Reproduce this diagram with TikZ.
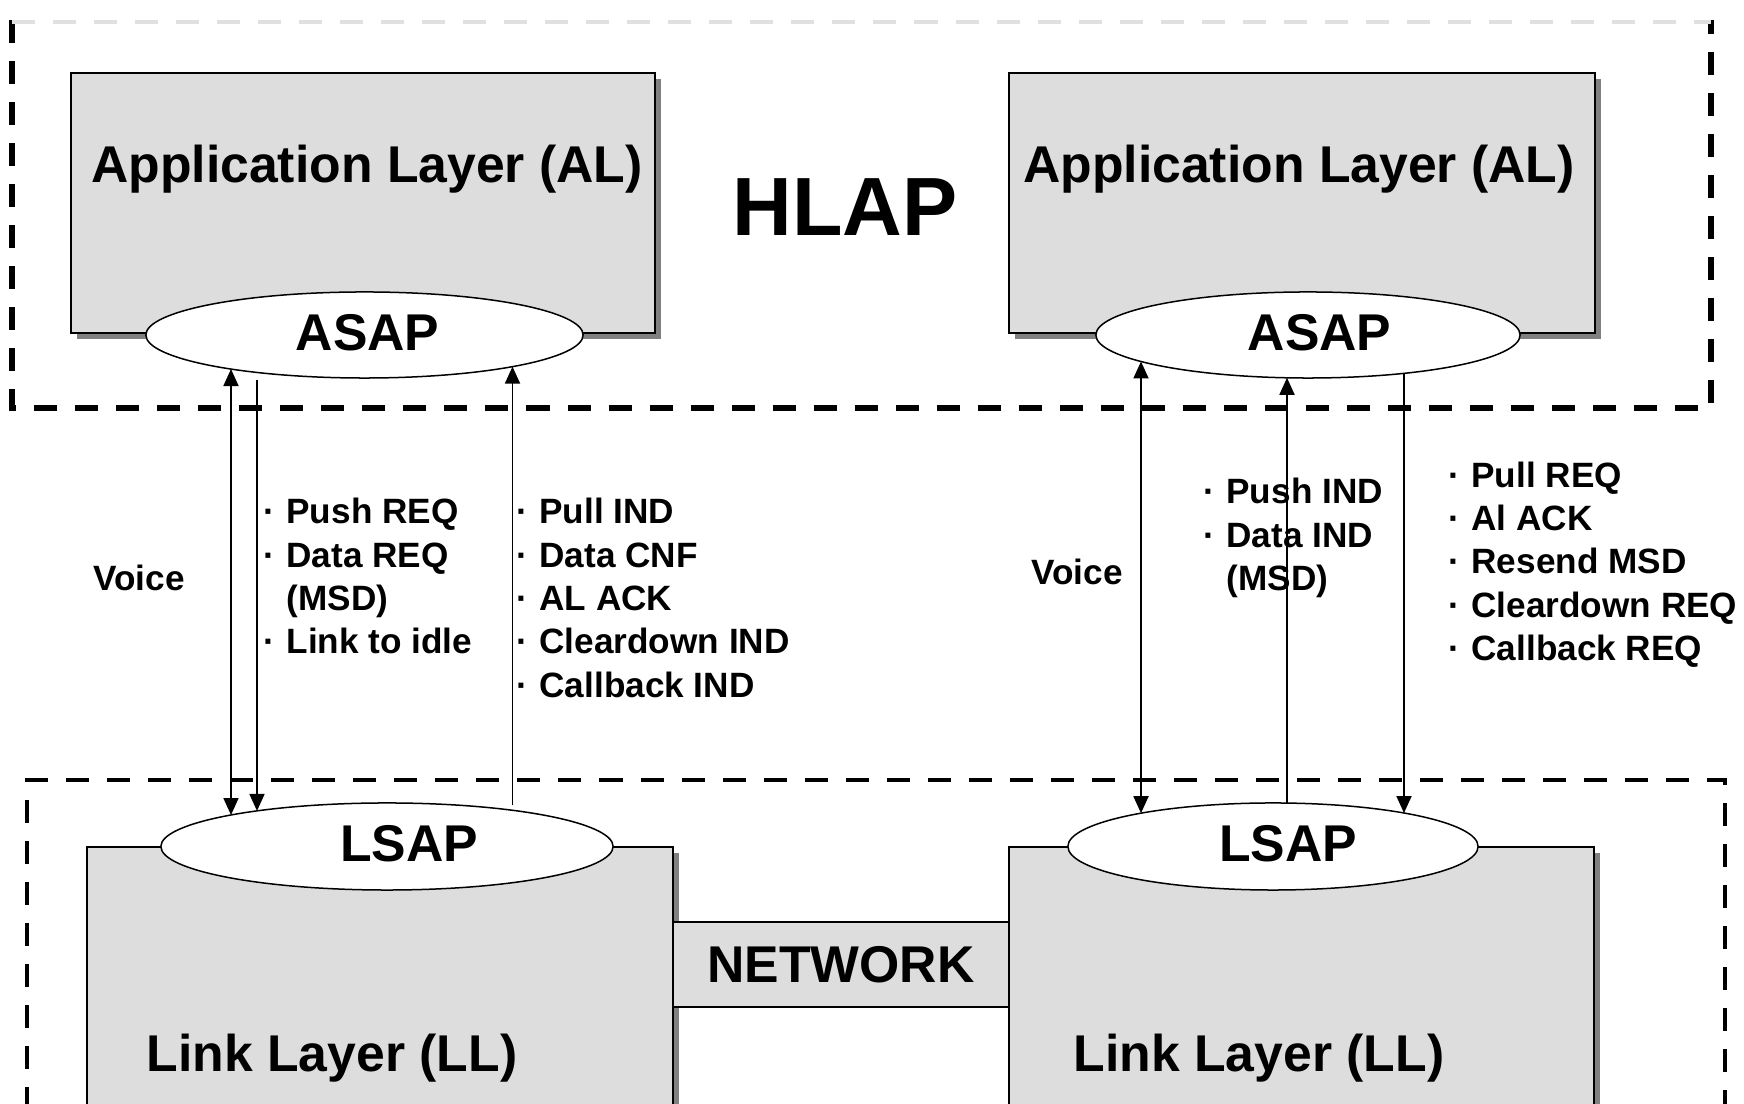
\documentclass[tikz,border=0pt]{standalone}
\usepackage{fontspec}
\setmainfont{Liberation Sans}
\usetikzlibrary{arrows.meta, % arrow tips
                shapes.geometric, % ellipse
                shadows, positioning}

\definecolor{boxgray}{RGB}{221,221,221}
\definecolor{shadowgray}{RGB}{128,128,128}
\newcommand{\bul}{\makebox[0.65em][l]{·}}
\newcommand{\nobul}{\makebox[0.65em][l]{}}

\begin{document}
\begin{tikzpicture}[x=0.01cm, y=-0.01cm,
		>={Triangle[length=0.17cm, width=0.15cm]},
		every edge/.style={draw, ->, line width=0.018cm},
		zone/.style={dashed, dash pattern=on 0.23cm off 0.18cm, line width=0.055cm},
		layer/.style={draw, line width=0.02cm, fill=boxgray,
			drop shadow={shadow xshift=0.06cm, shadow yshift=-0.06cm, fill=shadowgray, opacity=1}},
		netbox/.style={draw, line width=0.018cm, fill=boxgray, inner sep=0pt,
			font=\fontsize{14.7}{17}\selectfont\bfseries},
		sap/.style={ellipse, draw, fill=white, line width=0.015cm, inner sep=0pt},
		big/.style={inner sep=0pt, font=\fontsize{14.7}{17}\selectfont\bfseries},
		msg/.style={inner sep=0pt, anchor=base west, font=\fontsize{10}{12.3}\selectfont\bfseries}]

		\useasboundingbox (0,0) rectangle (1744,1104);
		\clip (0,0) rectangle (1744,1104);

		% Zones
		\draw[zone] (12,20) -- (12,408) -- (1711,408) -- (1711,20);
		\draw[zone, black!12, line width=0.04cm] (12,22) -- (1711,22);
		\draw[zone, line width=0.045cm] (27,1110) -- (27,780) -- (1725,780) -- (1725,1110);

		% Layers
		\node[layer, minimum width=5.84cm, minimum height=2.60cm] (alL) at (363,203) {};
		\node[layer, minimum width=5.86cm, minimum height=2.60cm] (alR) at (1302,203) {};
		\node[layer, minimum width=5.86cm, minimum height=2.83cm] (llL) at (380,988.5) {};
		\node[layer, minimum width=5.85cm, minimum height=2.83cm] (llR) at (1301.5,988.5) {};
		\node[netbox, minimum width=3.36cm, minimum height=0.85cm] (net) at (841,964.5) {NETWORK};

		\node[big, anchor=base] (alTL) at (367,183) {Application Layer (AL)};
		\node[big, anchor=base] (alTR) at (1299,183) {Application Layer (AL)};
		\node[big, anchor=base] (llTL) at (332,1072) {Link Layer (LL)};
		\node[big, anchor=base] (llTR) at (1259,1072) {Link Layer (LL)};
		\node[inner sep=0pt, font=\fontsize{23.5}{28}\selectfont\bfseries] (hlap) at (845,207) {HLAP};

		% Service access points
		\node[sap, minimum width=4.37cm, minimum height=0.86cm] (asapL) at (364.5,335) {};
		\node[sap, minimum width=4.24cm, minimum height=0.86cm] (asapR) at (1308,335) {};
		\node[sap, minimum width=4.52cm, minimum height=0.87cm] (lsapL) at (387,846.5) {};
		\node[sap, minimum width=4.10cm, minimum height=0.87cm] (lsapR) at (1273,846.5) {};
		\node[big] (asapTL) at (367.5,333) {ASAP};
		\node[big] (asapTR) at (1319.5,333) {ASAP};
		\node[big] (lsapTL) at (409,844) {LSAP};
		\node[big] (lsapTR) at (1288,844) {LSAP};

		% Primitives
		\draw ([shift={(-133.5,34.04)}]asapL.center) edge[<->] ([shift={(-156,-31.47)}]lsapL.center);
		\draw ([shift={(-107.5,37.44)}]asapL.center) edge[shorten <=0.08cm] ([shift={(-130,-35.58)}]lsapL.center);
		\draw ([shift={(125.5,-36.18)}]lsapL.center) edge[shorten <=0.05cm] ([shift={(148,31.63)}]asapL.center);
		\draw ([shift={(-167,26.49)}]asapR.center) edge[<->] ([shift={(-132,-33.28)}]lsapR.center);
		\draw ([shift={(14,-43.40)}]lsapR.center) edge ([shift={(-21,42.79)}]asapR.center);
		\draw ([shift={(96,38.34)}]asapR.center) edge ([shift={(131,-33.46)}]lsapR.center);

		% Labels
		\node[msg, anchor=center] (voiceL) at (139,578) {Voice};
		\node[msg, anchor=center] (voiceR) at (1077,572) {Voice};
		\node[msg] (downL) at (263,524) {\begin{tabular}[t]{@{}l@{}}\bul Push REQ\\ \bul Data REQ\\ \nobul (MSD)\\ \bul Link to idle\end{tabular}};
		\node[msg] (upL) at (516,524) {\begin{tabular}[t]{@{}l@{}}\bul Pull IND\\ \bul Data CNF\\ \bul AL ACK\\ \bul Cleardown IND\\ \bul Callback IND\end{tabular}};
		\node[msg] (upR) at (1203,504) {\begin{tabular}[t]{@{}l@{}}\bul Push IND\\ \bul Data IND\\ \nobul (MSD)\end{tabular}};
		\node[msg] (downR) at (1448,487.5) {\begin{tabular}[t]{@{}l@{}}\bul Pull REQ\\ \bul Al ACK\\ \bul Resend MSD\\ \bul Cleardown REQ\\ \bul Callback REQ\end{tabular}};
	\end{tikzpicture}
\end{document}
